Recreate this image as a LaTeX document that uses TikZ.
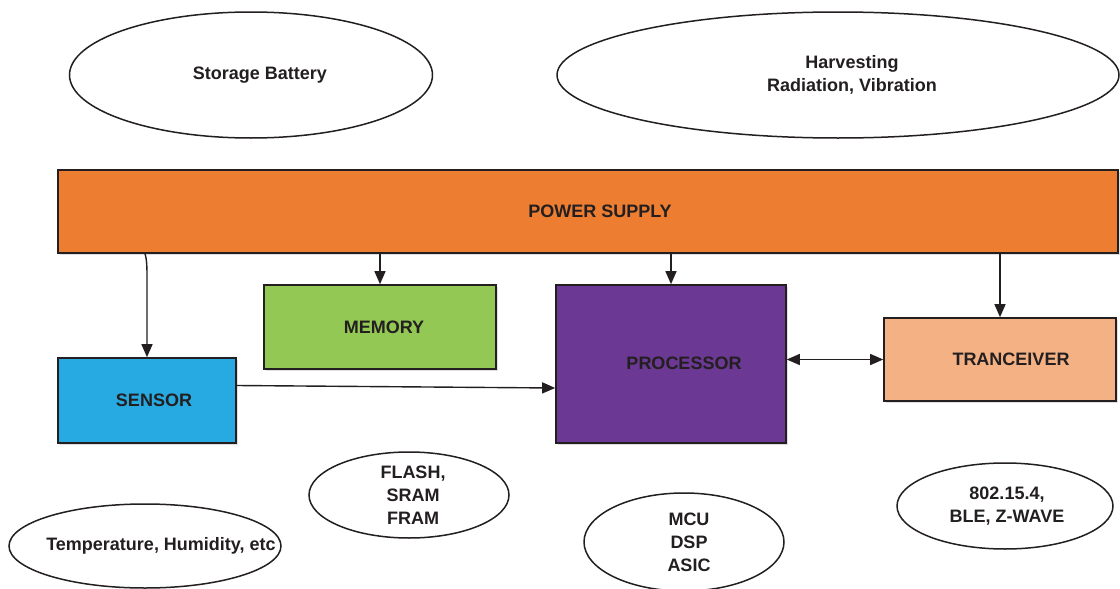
\documentclass[tikz,border=0pt]{standalone}
\usepackage{fontspec}
\setmainfont{Liberation Sans}
\usetikzlibrary{arrows.meta,shapes.geometric,shadows}
\definecolor{psorange}{HTML}{ED7D31}
\definecolor{memgreen}{HTML}{92C853}
\definecolor{senblue}{HTML}{27AAE1}
\definecolor{procpurple}{HTML}{6B3894}
\definecolor{trpeach}{HTML}{F4B183}
\definecolor{inkgray}{HTML}{231F20}
\begin{document}
\begin{tikzpicture}[x=1pt,y=-1pt,
  every node/.style={font=\bfseries\fontsize{18}{23}\selectfont,text=inkgray,align=center},
  box/.style={draw=inkgray,line width=1.6pt,rectangle,inner sep=0pt,
    drop shadow={shadow xshift=2pt,shadow yshift=-2pt,fill=black!25}},
  oval/.style={draw=inkgray,ellipse,line width=1.5pt,inner sep=0pt,fill=white},
  arr/.style={-{Triangle[length=13pt,width=11pt]},line width=1.4pt,draw=inkgray}]
\useasboundingbox (0,0) rectangle (1120,589);

% sources of energy
\node[oval,minimum width=363,minimum height=126,
  label={[xshift=9pt]center:Storage Battery}] (bat) at (251,75) {};
\node[oval,minimum width=562,minimum height=126,
  label={[xshift=14pt]center:Harvesting\\Radiation, Vibration}] (harv) at (838,75) {};

% blocks
\node[box,fill=psorange,minimum width=1060,minimum height=83] (ps) at (588,211.5) {\hspace*{24pt}POWER SUPPLY};
\node[box,fill=memgreen,minimum width=232,minimum height=84] (mem) at (380,327) {\hspace*{8pt}MEMORY};
\node[box,fill=senblue,minimum width=178,minimum height=85] (sen) at (147,400.5) {\hspace*{14pt}SENSOR};
\node[box,fill=procpurple,minimum width=230,minimum height=158,
  label={[xshift=13pt,yshift=1pt]center:PROCESSOR}] (proc) at (671,364) {};
\node[box,fill=trpeach,minimum width=232,minimum height=83] (tr) at (1000,359.5) {\hspace*{22pt}TRANCEIVER};

% examples
\node[oval,minimum width=200,minimum height=86,
  label={[xshift=4pt]center:FLASH,\\SRAM\\FRAM}] (flash) at (409,495) {};
\node[oval,minimum width=272,minimum height=84,
  label={[xshift=16pt]center:Temperature, Humidity, etc}] (temp) at (145,546) {};
\node[oval,minimum width=200,minimum height=98,
  label={[xshift=5pt]center:MCU\\DSP\\ASIC}] (mcu) at (684,542) {};
\node[oval,minimum width=216,minimum height=86,
  label={[xshift=2pt]center:802.15.4,\\BLE, Z-WAVE}] (radio) at (1005,506) {};

% connections
\draw[arr] ([xshift=-2pt]ps.south -| sen.north) .. controls +(2,6) and +(0,-8) .. ([yshift=80pt]sen.north) -- (sen.north);
\draw[arr] (ps.south -| mem.north) -- (mem.north);
\draw[arr] (ps.south -| proc.north) -- (proc.north);
\draw[arr] (ps.south -| tr.north) -- (tr.north);
\draw[arr] ([yshift=15pt]sen.east) -- ([yshift=-24pt]proc.west);
\draw[arr,{Triangle[length=13pt,width=11pt]}-{Triangle[length=13pt,width=11pt]}] (proc.east |- tr.west) -- (tr.west);
\end{tikzpicture}
\end{document}
